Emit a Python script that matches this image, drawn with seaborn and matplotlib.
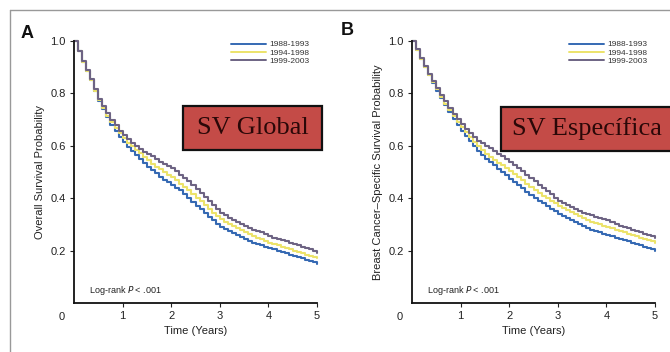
"""
Kaplan-Meier style survival curves by diagnosis period (two panels)
"""

import numpy as np
import pandas as pd
import matplotlib
matplotlib.use('Agg')
import matplotlib.pyplot as plt
from matplotlib.patches import Rectangle
from matplotlib.lines import Line2D
import seaborn as sns

# Step times in months (monthly steps up to 5 years)
months = list(range(0, 61))

periods = ['1988-1993', '1994-1998', '1999-2003']

# Panel A - overall survival
overall_8893 = [1.00, 0.96, 0.92, 0.885, 0.85, 0.81, 0.77, 0.74, 0.71, 0.68,
                0.655, 0.635, 0.615, 0.597, 0.58, 0.565, 0.55, 0.535, 0.52, 0.507,
                0.495, 0.482, 0.47, 0.46, 0.45, 0.44, 0.43, 0.415, 0.40, 0.385,
                0.37, 0.357, 0.345, 0.33, 0.315, 0.302, 0.29, 0.282, 0.275, 0.267,
                0.26, 0.252, 0.245, 0.237, 0.23, 0.225, 0.22, 0.215, 0.21, 0.205,
                0.20, 0.195, 0.19, 0.185, 0.18, 0.175, 0.17, 0.165, 0.16, 0.155,
                0.15]
overall_9498 = [1.00, 0.96, 0.92, 0.885, 0.85, 0.81, 0.775, 0.745, 0.715, 0.69,
                0.667, 0.647, 0.628, 0.612, 0.598, 0.584, 0.571, 0.558, 0.545, 0.532,
                0.52, 0.51, 0.50, 0.49, 0.48, 0.468, 0.455, 0.442, 0.43, 0.415,
                0.40, 0.388, 0.375, 0.36, 0.345, 0.332, 0.32, 0.31, 0.30, 0.292,
                0.285, 0.278, 0.27, 0.262, 0.255, 0.25, 0.245, 0.238, 0.23, 0.225,
                0.22, 0.215, 0.21, 0.205, 0.20, 0.195, 0.19, 0.185, 0.18, 0.175,
                0.17]
overall_9903 = [1.00, 0.962, 0.925, 0.89, 0.855, 0.817, 0.78, 0.752, 0.725, 0.70,
                0.678, 0.658, 0.641, 0.626, 0.612, 0.599, 0.587, 0.578, 0.57, 0.56,
                0.55, 0.54, 0.53, 0.522, 0.515, 0.502, 0.49, 0.478, 0.465, 0.45,
                0.435, 0.42, 0.405, 0.39, 0.375, 0.36, 0.345, 0.335, 0.325, 0.318,
                0.31, 0.302, 0.295, 0.288, 0.28, 0.275, 0.27, 0.262, 0.255, 0.25,
                0.245, 0.24, 0.235, 0.23, 0.225, 0.22, 0.215, 0.21, 0.205, 0.20,
                0.19]

# Panel B - breast cancer-specific survival
specific_8893 = [1.00, 0.965, 0.93, 0.90, 0.87, 0.84, 0.81, 0.782, 0.755, 0.728,
                 0.703, 0.68, 0.658, 0.638, 0.619, 0.60, 0.582, 0.566, 0.55, 0.538,
                 0.525, 0.512, 0.50, 0.488, 0.475, 0.462, 0.45, 0.438, 0.425, 0.412,
                 0.40, 0.39, 0.38, 0.37, 0.36, 0.35, 0.34, 0.332, 0.325, 0.318,
                 0.31, 0.302, 0.295, 0.288, 0.28, 0.275, 0.27, 0.265, 0.26, 0.255,
                 0.25, 0.245, 0.24, 0.235, 0.23, 0.225, 0.22, 0.215, 0.21, 0.205,
                 0.20]
specific_9498 = [1.00, 0.965, 0.93, 0.90, 0.87, 0.842, 0.815, 0.788, 0.76, 0.735,
                 0.712, 0.69, 0.67, 0.651, 0.633, 0.616, 0.60, 0.585, 0.57, 0.558,
                 0.545, 0.535, 0.525, 0.515, 0.505, 0.492, 0.48, 0.468, 0.455, 0.442,
                 0.43, 0.42, 0.41, 0.40, 0.39, 0.38, 0.37, 0.362, 0.355, 0.348,
                 0.34, 0.332, 0.325, 0.318, 0.31, 0.305, 0.30, 0.295, 0.29, 0.285,
                 0.28, 0.275, 0.27, 0.265, 0.26, 0.255, 0.25, 0.245, 0.24, 0.235,
                 0.23]
specific_9903 = [1.00, 0.968, 0.935, 0.905, 0.875, 0.848, 0.82, 0.795, 0.77, 0.745,
                 0.722, 0.701, 0.682, 0.665, 0.649, 0.634, 0.62, 0.61, 0.60, 0.59,
                 0.58, 0.57, 0.56, 0.55, 0.54, 0.528, 0.515, 0.502, 0.49, 0.478,
                 0.465, 0.452, 0.44, 0.428, 0.415, 0.402, 0.39, 0.382, 0.375, 0.368,
                 0.36, 0.352, 0.345, 0.34, 0.335, 0.33, 0.325, 0.32, 0.315, 0.308,
                 0.30, 0.295, 0.29, 0.285, 0.28, 0.275, 0.27, 0.265, 0.26, 0.255,
                 0.25]

x_ticks = [1, 2, 3, 4, 5]
y_ticks = [0.2, 0.4, 0.6, 0.8, 1.0]
y_ticklabels = ['0.2', '0.4', '0.6', '0.8', '1.0']

colors = {'1988-1993': '#3569b3', '1994-1998': '#ece36a', '1999-2003': '#6d6383'}


def to_long(series_list):
    frames = []
    for name, vals in zip(periods, series_list):
        frames.append(pd.DataFrame({'time': np.array(months) / 12.0,
                                    'surv': vals, 'period': name}))
    return pd.concat(frames, ignore_index=True)


sns.set_style('ticks')
plt.rcParams['font.family'] = ['Liberation Sans', 'DejaVu Sans']

fig = plt.figure(figsize=(6.7, 3.52), dpi=100)

panels = [
    dict(pos=[74 / 670, 49 / 352, 243 / 670, 262 / 352],
         data=[overall_8893, overall_9498, overall_9903],
         ylabel='Overall Survival Probability', letter='A', letter_xy=(21, 38)),
    dict(pos=[412 / 670, 49 / 352, 243 / 670, 262 / 352],
         data=[specific_8893, specific_9498, specific_9903],
         ylabel='Breast Cancer\u2013Specific Survival Probability', letter='B', letter_xy=(341, 35)),
]

for p in panels:
    ax = fig.add_axes(p['pos'])
    df = to_long(p['data'])
    sns.lineplot(data=df, x='time', y='surv', hue='period', palette=colors,
                 drawstyle='steps-post', estimator=None, linewidth=1.5,
                 ax=ax, legend=False, clip_on=False)
    ax.set_xlim(0, 5)
    ax.set_ylim(0, 1.0)
    ax.set_xticks(x_ticks)
    ax.set_yticks(y_ticks)
    ax.set_yticklabels(y_ticklabels)
    ax.tick_params(labelsize=8, length=3, width=0.8, colors='#222222', pad=3)
    for s in ['left', 'bottom']:
        ax.spines[s].set_linewidth(1.3)
        ax.spines[s].set_color('#111111')
    sns.despine(ax=ax)
    ax.set_xlabel('Time (Years)', fontsize=8, color='#222222', labelpad=3)
    ax.set_ylabel(p['ylabel'], fontsize=8, color='#222222', labelpad=4)
    ax.text(-0.25, -0.035, '0', transform=ax.get_xaxis_transform(),
            ha='center', va='top', fontsize=8, color='#222222')
    ax.text(0.06, 0.04, 'Log-rank $\\it{P}$ < .001', transform=ax.transAxes,
            fontsize=6.5, color='#222222')

    handles = [Line2D([0], [0], color=colors[k], lw=1.4) for k in periods]
    leg = ax.legend(handles, periods, loc='upper right', bbox_to_anchor=(1.0, 1.03),
                    frameon=False, fontsize=6, handlelength=4.2, handletextpad=0.4,
                    labelspacing=0.05)
    for t in leg.get_texts():
        t.set_color('#333333')

    fig.text(p['letter_xy'][0] / 670, 1 - p['letter_xy'][1] / 352, p['letter'],
             fontsize=13, fontweight='bold', color='#111111')

# Red label boxes
boxes = [((183, 106, 322, 150), 'SV Global', 'center'),
         ((501, 107, 680, 151), 'SV Espec\u00edfica', 'left')]
for (x0, y0, x1, y1), label, align in boxes:
    rect = Rectangle((x0 / 670, 1 - y1 / 352), (x1 - x0) / 670, (y1 - y0) / 352,
                     transform=fig.transFigure, facecolor='#c44b47',
                     edgecolor='#111111', linewidth=1.6, zorder=5)
    fig.add_artist(rect)
    tx = (x0 + x1) / 2 / 670 if align == 'center' else (x0 + 11) / 670
    fig.text(tx, 1 - (y0 + y1) / 2 / 352, label, ha=align, va='center',
             fontsize=19, family='Liberation Serif', color='#2a0808', zorder=6)

# Thin frame lines around the figure
fig.add_artist(Line2D([10 / 670, 10 / 670], [0, 1 - 10 / 352], transform=fig.transFigure,
                      color='#999999', lw=1))
fig.add_artist(Line2D([10 / 670, 1], [1 - 10 / 352, 1 - 10 / 352], transform=fig.transFigure,
                      color='#999999', lw=1))

plt.savefig('out.png', dpi=100)
